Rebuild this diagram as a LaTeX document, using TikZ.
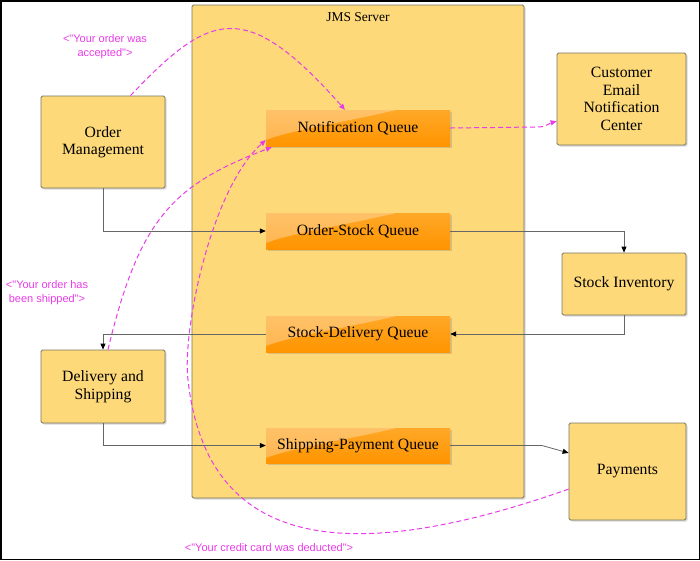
\documentclass[tikz,border=0pt]{standalone}
\usepackage{fontspec}
\setmainfont{Liberation Serif}
\newfontfamily\lblfont{Liberation Sans}
\usetikzlibrary{arrows.meta,shadows,calc}
\definecolor{boxfill}{RGB}{253,217,122}
\definecolor{boxline}{RGB}{120,115,95}
\definecolor{qtop}{RGB}{255,168,40}
\definecolor{qbot}{RGB}{255,148,0}
\definecolor{msg}{RGB}{232,60,232}
\begin{document}
\begin{tikzpicture}[x=1pt,y=-1pt,
  box/.style={draw=boxline, fill=boxfill, rounded corners=1.5pt, line width=0.8pt,
    align=center, font=\fontsize{15.7}{17.5}\selectfont, inner sep=2pt,
    drop shadow={shadow xshift=1.5pt,shadow yshift=-1.5pt,opacity=0.3}},
  queue/.style={top color=qtop, bottom color=qbot, minimum width=184pt, minimum height=36pt,
    font=\fontsize{15.7}{17.5}\selectfont, inner sep=0pt,
    drop shadow={shadow xshift=1.5pt,shadow yshift=-1.5pt,opacity=0.3},
    path picture={\fill[white,opacity=0.3] (path picture bounding box.north west)
      -- ([xshift=130pt]path picture bounding box.north west)
      .. controls ([xshift=80pt,yshift=-12pt]path picture bounding box.north west)
      and ([xshift=25pt,yshift=-20pt]path picture bounding box.north west)
      .. ([yshift=-30pt]path picture bounding box.north west) -- cycle;}},
  conn/.style={draw=black!60, line width=0.8pt, -{Triangle[length=6pt,width=5pt,color=black]}},
  msgconn/.style={draw=msg, line width=1pt, dash pattern=on 5pt off 3pt,
    -{Triangle[length=6pt,width=5pt]}},
  lbl/.style={text=msg, font=\lblfont\fontsize{11}{13.5}\selectfont, align=center, inner sep=0pt}
]
\path[use as bounding box] (0,0) rectangle (700,560);
\draw[line width=1.5pt] (0.75,0.75) rectangle (699.25,559.25);

% JMS server container
\node[box, minimum width=332pt, minimum height=493pt] (jms) at (358,251.5) {};
\node[font=\fontsize{13.5}{15}\selectfont] (jmslbl) at (358,17) {JMS Server};

% external boxes
\node[box, minimum width=124pt, minimum height=92pt] (om) at (103,142) {Order\\Management};
\node[box, minimum width=129pt, minimum height=92pt] (cenc) at (621.5,99) {Customer\\Email\\Notification\\Center};
\node[box, minimum width=124pt, minimum height=62pt] (si) at (624,284) {Stock Inventory};
\node[box, minimum width=124pt, minimum height=73pt] (ds) at (103,386.5) {Delivery and\\Shipping};
\node[box, minimum width=117pt, minimum height=97pt] (pay) at (627.5,471.5) {Payments};

% queues
\node[queue] (nq) at (358,128) {Notification Queue};
\node[queue] (osq) at (358,231) {Order-Stock Queue};
\node[queue] (sdq) at (358,334) {Stock-Delivery Queue};
\node[queue, minimum height=35pt] (spq) at (358,445.5) {Shipping-Payment Queue};

% solid connectors
\draw[conn] (om.south) |- (osq.west);
\draw[conn] (osq.east) -| (si.north);
\draw[conn] (si.south) |- (sdq.east);
\draw[conn] (sdq.west) -| (ds.north);
\draw[conn] (ds.south) |- (spq.west);
\coordinate (spbend) at (542,445.5);
\coordinate (payin) at ($(pay.north west)!0.31!(pay.south west)$);
\draw[conn] (spq.east) -- (spbend) -- (payin);

% message connectors
\coordinate (omout) at ($(om.north west)!0.72!(om.north east)$);
\draw[msgconn] (omout) .. controls (210,12) and (245,-3) .. ([xshift=-13pt]nq.north);

\coordinate (nqbend) at (538,127);
\coordinate (cencin) at ($(cenc.north west)!0.74!(cenc.south west)$);
\draw[msgconn] (nq.east) -- (nqbend) .. controls (546,127) and (550,123) .. (cencin);

\draw[msgconn] ([xshift=5pt]ds.north) .. controls (139,220) and (172,185) .. ([xshift=6pt,yshift=-1pt]nq.south west);

\coordinate (payout) at ($(pay.north west)!0.68!(pay.south west)$);
\coordinate (loopmid) at (188,380);
\draw[msgconn] (payout) .. controls (364,561) and (208,560) .. (loopmid)
  .. controls (182,331) and (211,189) .. ($(nq.north west)!0.83!(nq.south west)$);

% labels
\node[lbl] (l1) at (105,46.5) {<"Your order was\\accepted">};
\node[lbl] (l2) at (47,292.5) {<"Your order has\\been shipped">};
\node[lbl] (l3) at (269,548) {<"Your credit card was deducted">};
\end{tikzpicture}
\end{document}
